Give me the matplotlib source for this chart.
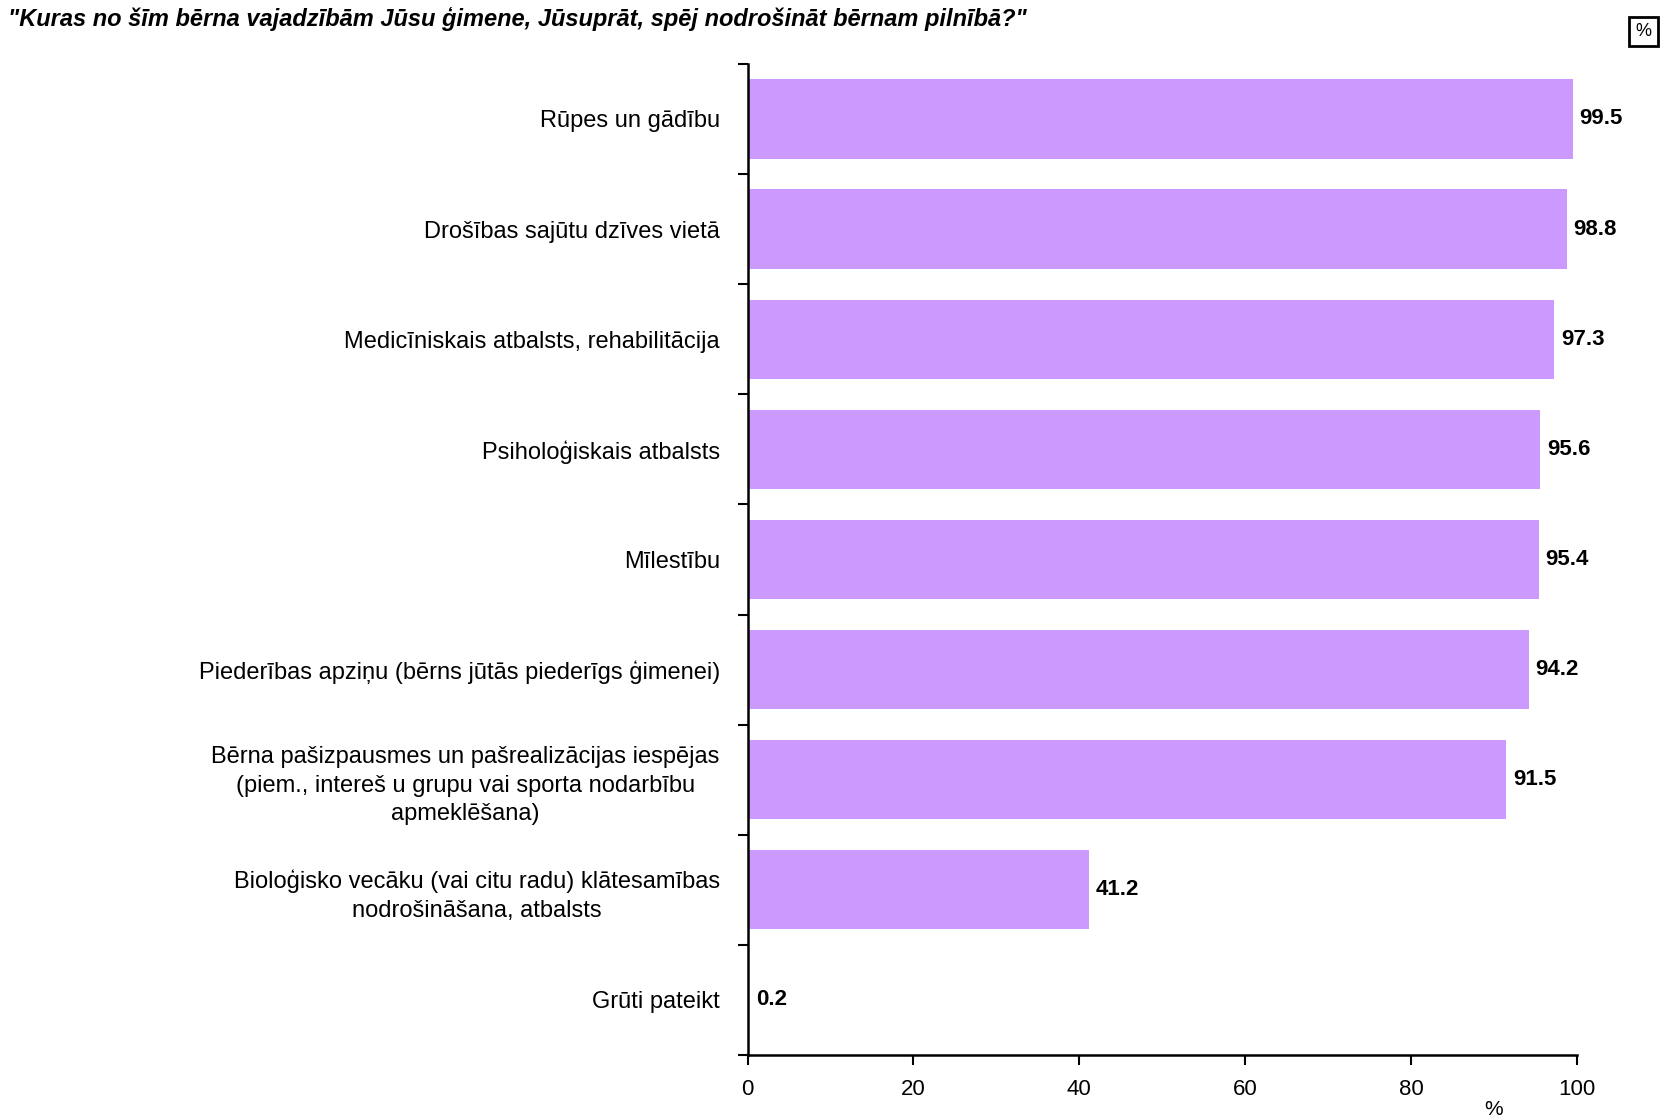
import numpy as np
import matplotlib.pyplot as plt

plt.rcParams['font.family'] = ['Liberation Sans', 'DejaVu Sans']

categories = [
    "Rūpes un gādību",
    "Drošības sajūtu dzīves vietā",
    "Medicīniskais atbalsts, rehabilitācija",
    "Psiholoģiskais atbalsts",
    "Mīlestību",
    "Piederības apziņu (bērns jūtās piederīgs ģimenei)",
    "Bērna pašizpausmes un pašrealizācijas iespējas\n(piem., intereš u grupu vai sporta nodarbību\napmeklēšana)",
    "Bioloģisko vecāku (vai citu radu) klātesamības\nnodrošināšana, atbalsts",
    "Grūti pateikt",
]
values = [99.5, 98.8, 97.3, 95.6, 95.4, 94.2, 91.5, 41.2, 0.2]
xticks = [0, 20, 40, 60, 80, 100]

fig = plt.figure(figsize=(16.65, 11.2), dpi=100)
ax = fig.add_axes([0.449, 0.058, 0.498, 0.885])

y = np.arange(len(categories))
ax.barh(y, values, height=0.72, color="#CC99FF", edgecolor="none")
for yi, v in zip(y, values):
    ax.text(v + 0.8, yi, f"{v:.1f}", va="center", ha="left", fontsize=16, fontweight="bold")

ax.set_ylim(len(categories) - 0.5, -0.5)
ax.set_xlim(0, 100)
ax.set_yticks(y)
ax.set_yticklabels(categories, fontsize=17, ha="right", multialignment="center", linespacing=1.4)
ax.tick_params(axis="y", which="major", length=0, pad=20)
ax.set_yticks(np.arange(len(categories) + 1) - 0.5, minor=True)
ax.tick_params(axis="y", which="minor", length=7, width=1.5, direction="out")
ax.set_xticks(xticks)
ax.set_xticklabels([str(t) for t in xticks], fontsize=16)
ax.tick_params(axis="x", length=7, width=1.5, pad=10)

for s in ["top", "right"]:
    ax.spines[s].set_visible(False)
ax.spines["left"].set_linewidth(1.8)
ax.spines["bottom"].set_linewidth(1.8)

ax.text(90, -0.045, "%", transform=ax.get_xaxis_transform(), ha="center", va="top", fontsize=15)

fig.text(0.005, 0.983, "\"Kuras no šīm bērna vajadzībām Jūsu ģimene, Jūsuprāt, spēj nodrošināt bērnam pilnībā?\"",
         fontsize=17, fontweight="bold", style="italic", ha="left", va="center")
fig.text(0.987, 0.972, "%", fontsize=13, ha="center", va="center",
         bbox=dict(boxstyle="square,pad=0.35", facecolor="white", edgecolor="black", linewidth=2))

fig.savefig("out.png", dpi=100)
